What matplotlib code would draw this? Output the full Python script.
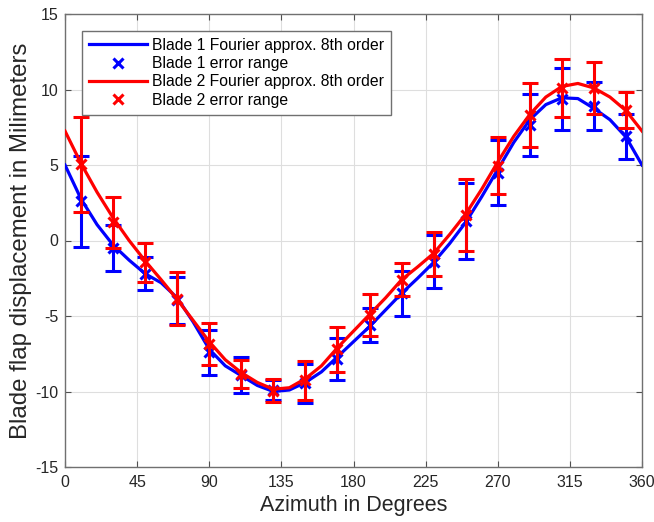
import matplotlib
matplotlib.use("Agg")
import matplotlib.pyplot as plt
from matplotlib.lines import Line2D

plt.rcParams['font.family'] = ['Liberation Sans', 'DejaVu Sans']
plt.rcParams['axes.unicode_minus'] = False

# Fourier approximation curves (read every 10 degrees)
curve_az = list(range(0, 361, 10))
blade1_curve = [5.0, 2.75, 1.05, -0.3, -1.3, -2.2, -2.8, -3.8, -5.4, -7.2,
                -8.3, -8.95, -9.6, -10.0, -9.9, -9.4, -8.7, -7.7, -6.7, -5.7,
                -4.6, -3.5, -2.5, -1.45, -0.2, 1.2, 2.9, 4.7, 6.5, 8.0,
                9.0, 9.45, 9.4, 8.75, 8.0, 6.85, 5.0]
blade2_curve = [7.25, 5.1, 3.2, 1.5, 0.0, -1.35, -2.6, -3.9, -5.3, -6.7,
                -7.9, -8.75, -9.4, -9.85, -9.75, -9.15, -8.3, -7.1, -6.0, -4.9,
                -3.8, -2.6, -1.75, -0.85, 0.4, 1.75, 3.4, 5.2, 6.9, 8.35,
                9.5, 10.2, 10.4, 10.1, 9.5, 8.6, 7.25]

# Measured points with error ranges
meas_az = list(range(10, 360, 20))
blade1_mean = [2.6, -0.5, -2.2, -3.95, -7.4, -8.9, -9.9, -9.45, -7.85,
               -5.6, -3.5, -1.4, 1.3, 4.5, 7.65, 9.35, 8.9, 6.9]
blade1_err = [3.0, 1.5, 1.1, 1.55, 1.5, 1.2, 0.65, 1.3, 1.4,
              1.1, 1.5, 1.75, 2.5, 2.15, 2.05, 2.05, 1.6, 1.5]
blade2_mean = [5.05, 1.2, -1.45, -3.85, -6.85, -8.85, -9.95, -9.25, -7.2,
               -4.95, -2.6, -0.9, 1.7, 4.95, 8.3, 10.1, 10.1, 8.65]
blade2_err = [3.15, 1.7, 1.3, 1.75, 1.4, 0.95, 0.75, 1.3, 1.5,
              1.4, 1.1, 1.45, 2.4, 1.9, 2.1, 1.9, 1.7, 1.2]

x_ticks = [0, 45, 90, 135, 180, 225, 270, 315, 360]
y_ticks = [-15, -10, -5, 0, 5, 10, 15]

labels = ["Blade 1 Fourier approx. 8th order", "Blade 1 error range",
          "Blade 2 Fourier approx. 8th order", "Blade 2 error range"]

fig = plt.figure(figsize=(6.54, 5.22), dpi=100)
ax = fig.add_axes([65/654, 1-467/522, (642-65)/654, (467-14)/522])

ax.plot(curve_az, blade1_curve, color='#0000ff', lw=2.3, zorder=3)
ax.errorbar(meas_az, blade1_mean, yerr=blade1_err, fmt='x', color='#0000ff',
            ms=7.5, mew=2.2, elinewidth=2.2, capsize=5.5, capthick=2.2, zorder=4)
ax.plot(curve_az, blade2_curve, color='#ff0000', lw=2.3, zorder=5)
ax.errorbar(meas_az, blade2_mean, yerr=blade2_err, fmt='x', color='#ff0000',
            ms=7.5, mew=2.2, elinewidth=2.2, capsize=5.5, capthick=2.2, zorder=6)

ax.set_xlim(0, 360)
ax.set_ylim(-15, 15)
ax.set_xticks(x_ticks)
ax.set_yticks(y_ticks)
ax.grid(True, color='#dedede', lw=0.8)
ax.set_axisbelow(True)
for s in ax.spines.values():
    s.set_color('#707070')
    s.set_linewidth(1.0)
ax.tick_params(direction='in', top=True, right=True, length=4, width=0.8,
               color='#505050', labelsize=11.5, labelcolor='#262626')
ax.tick_params(axis='x', pad=6)
ax.tick_params(axis='y', pad=5)
ax.set_xlabel("Azimuth in Degrees", fontsize=15.5, color='#262626', labelpad=3)
ax.set_ylabel("Blade flap displacement in Milimeters", fontsize=17.3, color='#262626', labelpad=2)

handles = [Line2D([], [], color='#0000ff', lw=2.3),
           Line2D([], [], color='#0000ff', ls='none', marker='x', ms=7, mew=2.2),
           Line2D([], [], color='#ff0000', lw=2.3),
           Line2D([], [], color='#ff0000', ls='none', marker='x', ms=7, mew=2.2)]
leg = ax.legend(handles, labels, loc='upper left', bbox_to_anchor=(17/577, 1-17/453),
                fontsize=11.3, frameon=True, fancybox=False, borderpad=0.42,
                labelspacing=0.22, handlelength=3.7, handletextpad=0.35,
                borderaxespad=0)
leg.get_frame().set_edgecolor('#707070')
leg.get_frame().set_linewidth(1.0)
leg.get_frame().set_alpha(1)
leg.set_zorder(10)

fig.savefig("out.png", dpi=100)
